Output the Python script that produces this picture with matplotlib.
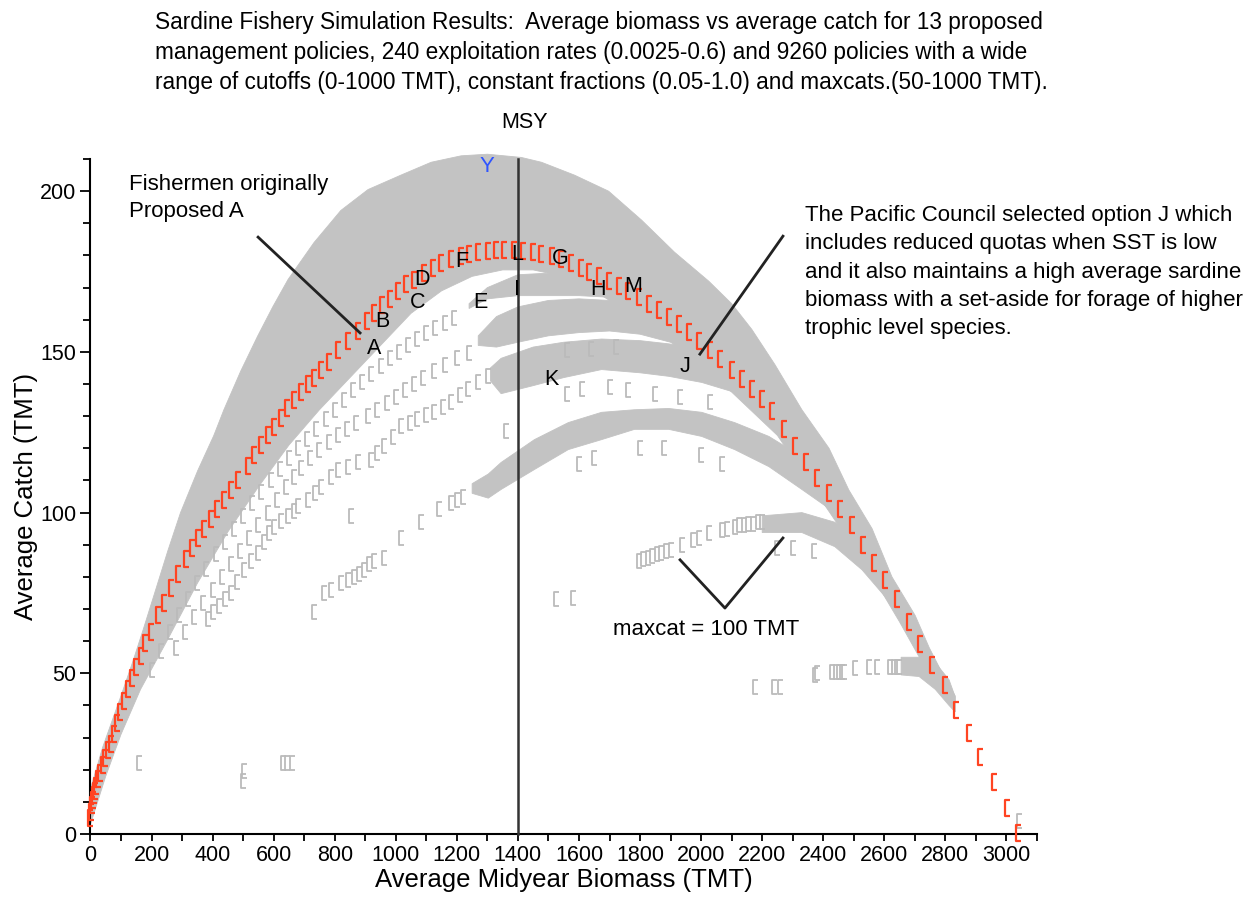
import numpy as np
import matplotlib.pyplot as plt
from matplotlib.path import Path

plt.rcParams['font.family'] = ['Liberation Sans', 'DejaVu Sans']

# red: the 240 constant exploitation rate policies (biomass, catch)
exploitation = [
    (0, 5), (2, 7), (4, 9), (7, 10.5), (10, 12), (14, 13.5), (19, 15), (25, 17), (32, 19),
    (40, 21.5), (48, 23.5), (57, 26), (66, 28), (76, 31), (87, 34.5), (98, 38), (110, 41.5),
    (122, 45), (135, 48.5), (150, 52), (164, 55.5), (180, 59.5), (197, 63), (220, 68), (240, 72),
    (263, 76.5), (287, 81), (312, 85.5), (331, 89), (351, 92), (372, 95), (394, 98), (415, 101),
    (436, 104), (459, 107), (482, 110), (515, 114.5), (537, 118), (558, 121), (580, 124),
    (600, 126.5), (624, 129.5), (645, 132.5), (667, 135), (690, 137.5), (712, 140), (732, 142),
    (755, 144.5), (780, 147), (811, 150.5), (843, 153.5), (876, 156.5), (905, 159.5), (930, 162),
    (955, 164.5), (980, 166.5), (1008, 169), (1034, 171), (1060, 172.5), (1093, 174.5),
    (1122, 176), (1149, 177.5), (1181, 178.8), (1214, 179.8), (1241, 180.4), (1270, 181),
    (1303, 181.3), (1329, 181.6), (1355, 181.8), (1388, 181.8), (1418, 181.5), (1451, 181),
    (1477, 180.5), (1510, 179.8), (1542, 178.8), (1575, 177.5), (1608, 176), (1634, 174.8),
    (1664, 173.5), (1697, 172), (1730, 170.4), (1762, 169), (1795, 167), (1828, 165),
    (1861, 163), (1894, 161), (1926, 158.8), (1959, 156.3), (1992, 153.5), (2028, 150.5),
    (2061, 147.7), (2100, 144.5), (2133, 141.5), (2166, 138.5), (2199, 135.3), (2232, 131.5),
    (2271, 126), (2307, 120.6), (2343, 115.6), (2379, 110.9), (2419, 106), (2455, 101),
    (2494, 96), (2530, 90), (2566, 84.4), (2603, 79), (2642, 73), (2681, 66), (2717, 59),
    (2757, 52.6), (2799, 46.4), (2836, 38.6), (2878, 31.5), (2914, 24), (2960, 16.2),
    (3003, 8.1), (3039, 0.3),
]

# gray: outlines of the dense clouds of cutoff / fraction / maxcat policies
main_top = [(0, 14), (40, 27), (100, 43), (140, 54), (174, 64), (207, 74), (230, 81), (253, 88),
            (295, 100), (351, 113), (404, 124), (437, 132), (492, 144), (548, 155), (597, 164),
            (647, 172.5), (732, 184), (820, 194), (909, 200.5), (1017, 205), (1116, 209),
            (1214, 211), (1300, 211.5), (1411, 210.5), (1477, 209), (1585, 205), (1697, 200),
            (1805, 191), (1913, 181), (2025, 172), (2100, 165), (2166, 157), (2242, 146),
            (2330, 132), (2419, 120), (2484, 107), (2560, 95), (2625, 80), (2701, 68),
            (2747, 58), (2790, 50), (2832, 43)]
main_bottom = [(0, 3), (50, 18), (100, 31), (164, 45), (250, 60), (350, 78), (450, 94),
               (550, 108), (650, 121), (750, 132), (850, 142), (950, 152), (1050, 162),
               (1150, 169), (1250, 173.5), (1350, 175.5), (1450, 175.5), (1550, 173.5),
               (1650, 169), (1750, 163), (1850, 158), (1950, 150), (2050, 142), (2150, 133),
               (2250, 124), (2350, 110), (2450, 96), (2550, 82), (2650, 66), (2750, 49),
               (2832, 38)]
band1_top = [(1240, 165), (1300, 170), (1400, 174), (1500, 174.5), (1600, 173.5), (1700, 170.5),
             (1800, 166), (1850, 163)]
band1_bottom = [(1240, 163.5), (1300, 166.5), (1400, 167.5), (1500, 167.5), (1600, 167.5),
                (1700, 167), (1800, 164), (1850, 160)]
band2_top = [(1270, 155), (1330, 161), (1400, 164), (1500, 166), (1600, 166.5), (1700, 166),
             (1800, 163), (1900, 159), (1950, 156)]
band2_bottom = [(1270, 152), (1330, 151.5), (1400, 153), (1500, 155), (1600, 156), (1700, 156.5),
                (1800, 155.5), (1900, 153), (1950, 150)]
band3_top = [(1310, 145), (1345, 148), (1450, 151.5), (1550, 153), (1674, 154), (1800, 153.5),
             (1894, 152.5), (2002, 151), (2110, 148), (2222, 143)]
band3_bottom = [(1310, 141), (1345, 137), (1450, 139.5), (1550, 142), (1674, 144.5),
                (1800, 143.5), (1894, 142.4), (2002, 140.5), (2110, 137.4), (2222, 132),
                (2300, 126)]
band4_top = [(1250, 109), (1303, 112), (1345, 115.6), (1454, 122.7), (1565, 128), (1674, 131.2),
             (1782, 132), (1894, 132.4), (2002, 131.2), (2110, 128), (2222, 123.7),
             (2330, 117.4), (2438, 110.3)]
band4_bottom = [(1250, 106), (1303, 104.5), (1345, 107.2), (1454, 113.4), (1565, 119.6),
                (1674, 122.7), (1782, 125.9), (1894, 125.9), (2002, 123.7), (2110, 119.6),
                (2222, 114.3), (2330, 107.2), (2438, 100)]
band5_top = [(2200, 99), (2330, 100), (2438, 97), (2527, 91), (2583, 83), (2640, 74),
             (2701, 63), (2724, 58)]
band5_bottom = [(2200, 93.8), (2330, 93.8), (2438, 89.4), (2527, 82.2), (2603, 73.8),
                (2658, 66.7), (2701, 60.4), (2724, 56.4)]
band6_top = [(2655, 55), (2714, 55), (2767, 53.3), (2812, 48), (2832, 42.7)]
band6_bottom = [(2655, 49.5), (2714, 49), (2767, 45), (2812, 40), (2832, 38)]

# gray: scattered single policies outside the dense clouds
band1_tail = [(200, 51), (230, 57), (260, 63), (290, 68), (320, 73), (350, 78), (380, 82.5),
              (410, 87), (440, 91), (470, 95), (500, 99), (530, 103), (560, 106.5), (590, 110),
              (620, 113.5), (650, 117), (680, 120), (710, 123), (740, 126), (770, 129),
              (800, 132), (830, 135), (860, 138), (890, 140.5), (920, 143), (950, 145.5),
              (980, 148), (1010, 150), (1040, 152), (1070, 154), (1100, 156), (1130, 157.5),
              (1160, 159), (1190, 160.5)]
band2_tail = [(280, 58), (310, 63), (340, 67.5), (370, 72), (400, 76), (430, 80), (460, 84),
              (490, 88), (520, 92), (550, 96), (580, 100), (610, 104), (640, 108), (665, 111),
              (689, 114), (720, 117), (750, 119.5), (780, 122), (810, 124), (840, 126),
              (870, 128), (909, 130), (940, 132), (970, 134), (1000, 136), (1030, 138),
              (1060, 140), (1090, 142), (1126, 144), (1160, 146), (1200, 148), (1240, 149.5)]
band3_tail = [(384, 67), (402, 69), (420, 71), (440, 73), (459, 75), (480, 78.5), (502, 82),
              (525, 85), (548, 87.5), (568, 91), (585, 93.5), (601, 95.6), (625, 97.5),
              (647, 99), (665, 100.5), (679, 102), (712, 104), (735, 106), (755, 108),
              (788, 111), (811, 113.4), (843, 114.3), (876, 115.6), (919, 116.5), (940, 118.5),
              (962, 120.6), (990, 123.5), (1017, 126.8), (1045, 128), (1070, 129),
              (1100, 130.5), (1126, 131.2), (1155, 133), (1181, 134.3), (1210, 136.5),
              (1237, 138.3), (1270, 140.5), (1303, 142.4)]
band4_tail = [(732, 69), (765, 75), (788, 76), (820, 78), (842, 79), (863, 80), (880, 81),
              (896, 82), (912, 84), (929, 85), (962, 86), (1017, 92), (1083, 97), (1140, 101),
              (1181, 103), (1200, 104), (1220, 105)]
band5_tail = [(1526, 73), (1582, 73.5), (1795, 85), (1810, 85.5), (1825, 86), (1840, 86.5),
              (1855, 87), (1870, 87.5), (1885, 88), (1900, 88.5), (1936, 90), (1975, 91.5),
              (1992, 92), (2025, 93.5), (2068, 94.5), (2085, 95), (2110, 95.5), (2125, 96),
              (2140, 96), (2155, 96.5), (2170, 96.5), (2185, 97), (2200, 97)]
band6_tail = [(158, 22), (500, 16.5), (502, 19.5), (630, 22), (645, 22), (660, 22),
              (2176, 45.8), (2238, 45.8), (2258, 45.8), (2373, 49.5), (2380, 50), (2429, 50.5),
              (2441, 50.5), (2451, 50.5), (2460, 50.5), (2467, 50.5), (2504, 51.7), (2550, 52),
              (2576, 52), (2620, 52), (2632, 52), (2640, 52), (2648, 52), (3040, 4)]
hanging = [(853, 99), (1362, 125.5), (1560, 150.5), (1640, 151), (1720, 151.5),
           (1560, 137), (1610, 138.5), (1700, 139), (1760, 138), (1850, 137), (1930, 136),
           (2030, 134.5), (1600, 115), (1650, 117), (1800, 120), (1880, 120), (2000, 118),
           (2070, 115), (2250, 89), (2300, 89), (2370, 88)]

# lettered management policies
policy_names = ['A', 'B', 'C', 'D', 'E', 'F', 'G', 'H', 'I', 'J', 'K', 'L', 'M']
policy_xy = [(929, 151.2), (955, 159.3), (1073, 165.5), (1086, 172.4), (1276, 165.5),
             (1217, 178), (1538, 179.2), (1662, 169.3), (1397, 169.3), (1947, 145.3),
             (1508, 141.3), (1397, 180.2), (1777, 170.2)]
msy_biomass = 1400

title = ("Sardine Fishery Simulation Results:  Average biomass vs average catch for 13 proposed\n"
         "management policies, 240 exploitation rates (0.0025-0.6) and 9260 policies with a wide\n"
         "range of cutoffs (0-1000 TMT), constant fractions (0.05-1.0) and maxcats.(50-1000 TMT).")
council_note = ("The Pacific Council selected option J which\n"
                "includes reduced quotas when SST is low\n"
                "and it also maintains a high average sardine\n"
                "biomass with a set-aside for forage of higher\n"
                "trophic level species.")

bracket = Path([(0.22, 0.5), (-0.12, 0.5), (-0.12, -0.5), (0.22, -0.5)],
               [Path.MOVETO, Path.LINETO, Path.LINETO, Path.LINETO])
GRAY = '#c3c3c3'
RED = '#ff4422'


def xy(pairs):
    a = np.array(pairs, dtype=float)
    return a[:, 0], a[:, 1]


def cloud(ax, top, bottom):
    tx, ty = xy(top)
    bx, by = xy(bottom)
    ax.fill(np.r_[tx, bx[::-1]], np.r_[ty, by[::-1]], color=GRAY, lw=0.6, zorder=1,
            clip_on=False)


fig = plt.figure(figsize=(12.6, 9), dpi=100)
ax = fig.add_axes([0.0718, 0.0733, 0.7512, 0.75])

for top, bottom in [(main_top, main_bottom), (band1_top, band1_bottom),
                    (band2_top, band2_bottom), (band3_top, band3_bottom),
                    (band4_top, band4_bottom), (band5_top, band5_bottom),
                    (band6_top, band6_bottom)]:
    cloud(ax, top, bottom)

for tail in [band1_tail, band2_tail, band3_tail, band4_tail, band5_tail, band6_tail, hanging]:
    tx, ty = xy(tail)
    ax.plot(tx, ty, ls='none', marker=bracket, ms=9.5, mfc='none', mec='#bbbbbb',
            mew=1.3, zorder=2, clip_on=False)

ex, ey = xy(exploitation)
ax.plot(ex, ey, ls='none', marker=bracket, ms=11, mfc='none', mec=RED, mew=1.6,
        zorder=3, clip_on=False)

ax.plot([msy_biomass, msy_biomass], [0, 210], color='#333333', lw=1.8, zorder=4, clip_on=False)
ax.text(1420, 221.5, 'MSY', ha='center', va='center', fontsize=15.5)

for name, (px, py) in zip(policy_names, policy_xy):
    ax.text(px, py, name, ha='center', va='center', fontsize=15.5, zorder=6)
ax.text(1299, 207.7, 'Y', ha='center', va='center', fontsize=16, color='#2f55ff', zorder=6)

# annotation lines
ax.plot([549, 883], [185.7, 155.9], color='#222222', lw=2, zorder=5)
ax.plot([2268, 1996], [186, 149.3], color='#222222', lw=2, zorder=5)
ax.plot([1931, 2078, 2268], [85.3, 70.3, 92.1], color='#222222', lw=2, zorder=5)

ax.text(125, 197.8, 'Fishermen originally\nProposed A', ha='left', va='center',
        fontsize=16, linespacing=1.4)
ax.text(2340, 174.8, council_note, ha='left', va='center', fontsize=16, linespacing=1.45)
ax.text(1713, 63.6, 'maxcat = 100 TMT', ha='left', va='center', fontsize=16)

fig.text(0.123, 0.942, title, ha='left', va='center', fontsize=16.3, linespacing=1.38)

ax.set_xlim(0, 3100)
ax.set_ylim(0, 210)
ax.set_xticks(np.arange(0, 3001, 200))
ax.set_xticks(np.arange(0, 3101, 100), minor=True)
ax.set_yticks(np.arange(0, 201, 50))
ax.set_yticks(np.arange(0, 211, 10), minor=True)
ax.spines['top'].set_visible(False)
ax.spines['right'].set_visible(False)
for s in ['left', 'bottom']:
    ax.spines[s].set_linewidth(1.5)
ax.tick_params(axis='x', which='both', direction='out', length=5, width=1.3,
               labelsize=15.5, pad=3)
ax.tick_params(axis='y', which='major', direction='out', length=7, width=1.3,
               labelsize=15.5, pad=3)
ax.tick_params(axis='y', which='minor', direction='out', length=5, width=1.3)
ax.set_xlabel('Average Midyear Biomass (TMT)', fontsize=18.5, labelpad=1)
ax.set_ylabel('Average Catch (TMT)', fontsize=18.5, labelpad=2)

fig.savefig('out.png', dpi=100)
